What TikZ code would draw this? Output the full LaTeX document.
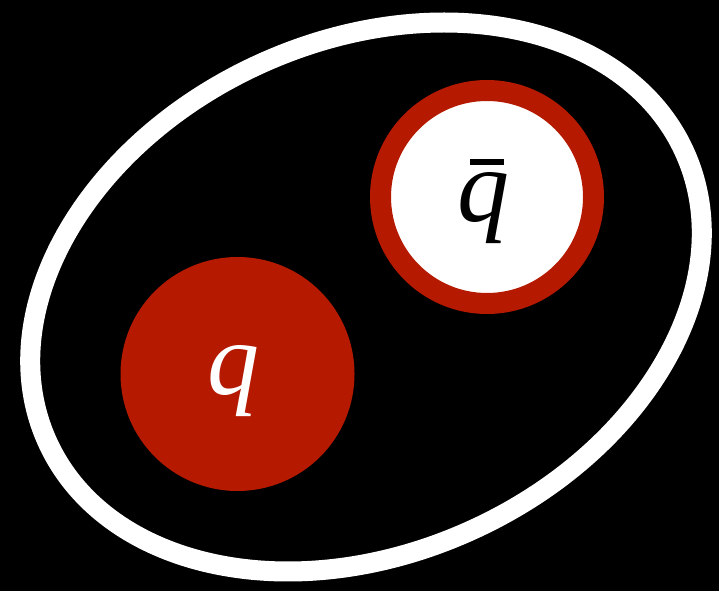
\documentclass[tikz,border=0pt]{standalone}
\usepackage{fontspec}
\setmainfont{Liberation Serif}
\definecolor{qred}{RGB}{181,25,0}
\begin{document}
\begin{tikzpicture}[x=1pt,y=1pt,
  qlabel/.style={font=\fontsize{104}{104}\selectfont\itshape, inner sep=0pt, anchor=base}]
\useasboundingbox (0,0) rectangle (719,591);
\fill[black] (0,0) rectangle (719,591);
\draw[white, line width=20pt, rotate around={24.5:(366,294)}] (366,294) ellipse [x radius=350, y radius=256];
\fill[qred] (237.5,217) circle [radius=117];
\node[circle, fill=white, draw=qred, line width=21pt, minimum size=213pt, inner sep=0pt] (qbar) at (487,394) {};
\node[qlabel, text=white] (q) at (233,196) {q};
\node[qlabel, text=black] (qb) at (483,369) {\rlap{\hspace{13pt}\raisebox{57pt}{\rule{34pt}{6pt}}}q};
\end{tikzpicture}
\end{document}
